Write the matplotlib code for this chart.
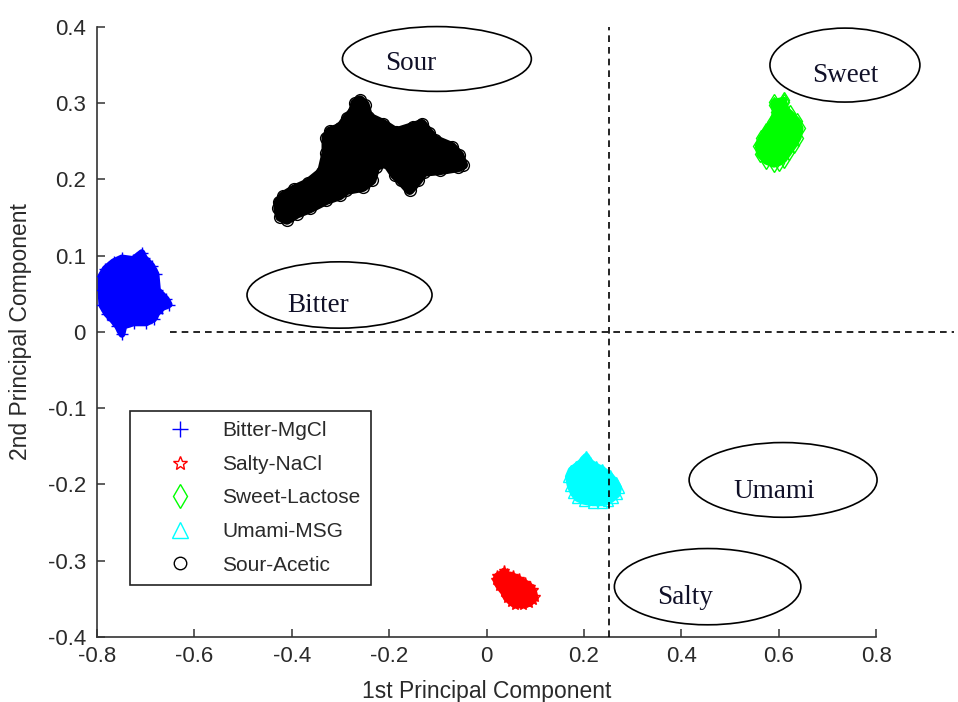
import matplotlib
matplotlib.use("Agg")
import matplotlib.pyplot as plt
from matplotlib.patches import Ellipse

plt.rcParams['font.family'] = ['Liberation Sans', 'DejaVu Sans']

# Outline of each PCA score cloud (1st PC, 2nd PC)
bitter_x = [-0.766, -0.749, -0.726, -0.708, -0.703, -0.688, -0.679, -0.676, -0.658, -0.652,
            -0.666, -0.677, -0.684, -0.699, -0.725, -0.745, -0.749, -0.758, -0.768, -0.780,
            -0.790, -0.792, -0.792, -0.783]
bitter_y = [0.092, 0.097, 0.095, 0.104, 0.097, 0.087, 0.076, 0.055, 0.043, 0.036,
            0.032, 0.025, 0.017, 0.012, 0.012, 0.008, -0.003, 0.008, 0.016, 0.024,
            0.035, 0.055, 0.073, 0.083]

salty_x = [0.036, 0.042, 0.054, 0.066, 0.079, 0.090, 0.096, 0.099, 0.096, 0.088,
           0.074, 0.058, 0.050, 0.041, 0.035, 0.025, 0.019, 0.022, 0.031]
salty_y = [-0.314, -0.318, -0.320, -0.324, -0.329, -0.334, -0.339, -0.347, -0.351, -0.356,
           -0.358, -0.358, -0.354, -0.349, -0.341, -0.333, -0.325, -0.320, -0.317]

sweet_x = [0.590, 0.611, 0.610, 0.613, 0.623, 0.638, 0.644, 0.640, 0.631, 0.621,
           0.610, 0.600, 0.590, 0.574, 0.561, 0.558, 0.564, 0.574, 0.587, 0.594, 0.590]
sweet_y = [0.301, 0.304, 0.301, 0.291, 0.287, 0.277, 0.267, 0.255, 0.245, 0.236,
           0.226, 0.222, 0.220, 0.224, 0.233, 0.244, 0.254, 0.264, 0.275, 0.288, 0.297]

umami_x = [0.205, 0.213, 0.224, 0.237, 0.253, 0.265, 0.271, 0.268, 0.259, 0.250,
           0.238, 0.218, 0.200, 0.186, 0.178, 0.172, 0.168, 0.174, 0.184, 0.194, 0.200]
umami_y = [-0.163, -0.171, -0.176, -0.180, -0.188, -0.197, -0.205, -0.213, -0.218, -0.222,
           -0.224, -0.224, -0.222, -0.218, -0.211, -0.202, -0.190, -0.181, -0.176, -0.171, -0.166]

sour_x = [-0.427, -0.418, -0.395, -0.367, -0.338, -0.329, -0.329, -0.322, -0.300, -0.287,
          -0.273, -0.270, -0.260, -0.250, -0.243, -0.213, -0.186, -0.151, -0.133, -0.118,
          -0.106, -0.072, -0.056, -0.048, -0.058, -0.096, -0.129, -0.141, -0.158, -0.176,
          -0.188, -0.206, -0.228, -0.236, -0.254, -0.288, -0.302, -0.329, -0.363, -0.390,
          -0.410, -0.424, -0.428]
sour_y = [0.170, 0.178, 0.187, 0.195, 0.210, 0.235, 0.255, 0.263, 0.268, 0.280,
          0.290, 0.300, 0.304, 0.298, 0.282, 0.273, 0.262, 0.269, 0.273, 0.261,
          0.252, 0.243, 0.232, 0.219, 0.216, 0.212, 0.210, 0.199, 0.186, 0.199,
          0.206, 0.223, 0.217, 0.199, 0.190, 0.186, 0.179, 0.173, 0.162, 0.155,
          0.147, 0.151, 0.162]

legend_labels = ['Bitter-MgCl', 'Salty-NaCl', 'Sweet-Lactose', 'Umami-MSG', 'Sour-Acetic']

# taste regions drawn as ellipses with a serif name
taste_names = ['Sour', 'Sweet', 'Bitter', 'Umami', 'Salty']
ell_cx = [-0.102, 0.736, -0.302, 0.609, 0.454]
ell_cy = [0.358, 0.350, 0.0485, -0.194, -0.334]
ell_w = [0.388, 0.308, 0.380, 0.386, 0.383]
ell_h = [0.085, 0.097, 0.087, 0.098, 0.100]
name_x = [-0.156, 0.736, -0.345, 0.591, 0.408]
name_y = [0.344, 0.328, 0.026, -0.218, -0.357]

xticks = [-0.8, -0.6, -0.4, -0.2, 0, 0.2, 0.4, 0.6, 0.8]
xtick_labels = ['-0.8', '-0.6', '-0.4', '-0.2', '0', '0.2', '0.4', '0.6', '0.8']
yticks = [-0.4, -0.3, -0.2, -0.1, 0, 0.1, 0.2, 0.3, 0.4]
ytick_labels = ['-0.4', '-0.3', '-0.2', '-0.1', '0', '0.1', '0.2', '0.3', '0.4']

fig = plt.figure(figsize=(9.58, 7.02), dpi=100)
ax = fig.add_axes([0.1013, 0.0926, 0.8132, 0.869])

# (x, y, colour, marker, size on plot, size in legend, body edge width)
clusters = [
    (bitter_x, bitter_y, 'blue', '+', 9, 12, 5),
    (salty_x, salty_y, 'red', '*', 8, 10, 5),
    (sweet_x, sweet_y, '#00ff00', 'd', 8, 12, 5),
    (umami_x, umami_y, 'cyan', '^', 7, 11, 5),
    (sour_x, sour_y, 'black', 'o', 8.5, 9, 7),
]
for (xs, ys, col, mk, ms, lms, bw), lab in zip(clusters, legend_labels):
    ax.fill(xs, ys, fc=col, ec=col, lw=bw, joinstyle='round', zorder=2)
    ax.plot(xs, ys, ls='none', marker=mk, ms=ms, mfc='none', mec=col, mew=1.0,
            label=lab, zorder=3)

# quadrant lines
ax.plot([0.252, 0.252], [-0.4, 0.4], color='black', lw=1.2, ls=(0, (4, 3)), zorder=4,
        clip_on=False)
ax.plot([-0.65, 0.96], [0, 0], color='black', lw=1.2, ls=(0, (4, 3)), zorder=4,
        clip_on=False)

for name, cx, cy, w, h, tx, ty in zip(taste_names, ell_cx, ell_cy, ell_w, ell_h, name_x, name_y):
    ax.add_patch(Ellipse((cx, cy), w, h, fill=False, ec='black', lw=1.2, zorder=5,
                         clip_on=False))
    ax.text(tx, ty, name, ha='center', va='baseline', fontsize=19.5,
            family=['Liberation Serif', 'DejaVu Serif'], color='#101028', zorder=6)

ax.set_xlim(-0.8, 0.8)
ax.set_ylim(-0.4, 0.4)
ax.set_xticks(xticks)
ax.set_xticklabels(xtick_labels)
ax.set_yticks(yticks)
ax.set_yticklabels(ytick_labels)
ax.spines['top'].set_visible(False)
ax.spines['right'].set_visible(False)
for s in ['left', 'bottom']:
    ax.spines[s].set_color('#333333')
    ax.spines[s].set_linewidth(1.2)
ax.tick_params(axis='both', direction='in', length=6, width=1.1, color='#333333',
               labelsize=16, labelcolor='#2a2a2a')
ax.tick_params(axis='x', pad=6.5)
ax.tick_params(axis='y', pad=8)

ax.set_xlabel('1st Principal Component', fontsize=16.5, color='#2a2a2a', labelpad=9)
ax.set_ylabel('2nd Principal Component', fontsize=16.5, color='#2a2a2a', labelpad=11)

leg = ax.legend(loc='lower left', bbox_to_anchor=(0.0424, 0.0852), borderaxespad=0,
                fontsize=15, borderpad=0.5, handlelength=3.8, handletextpad=0.12,
                labelspacing=0.7, fancybox=False, framealpha=1, edgecolor='#222222')
leg.get_frame().set_linewidth(1.2)
for t in leg.get_texts():
    t.set_color('#2a2a2a')
for h, c in zip(leg.legend_handles, clusters):
    h.set_markersize(c[5])

fig.savefig('out.png', dpi=100)
